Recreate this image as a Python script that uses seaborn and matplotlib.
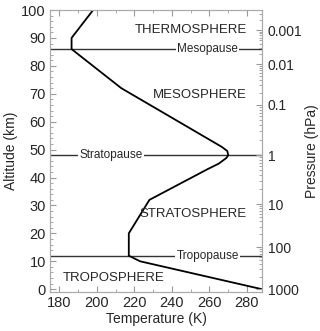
import numpy as np
import pandas as pd
import matplotlib
matplotlib.use('Agg')
import matplotlib.pyplot as plt
import seaborn as sns
from matplotlib.ticker import MultipleLocator, FixedLocator, NullFormatter

# temperature profile
altitude = [0, 10, 12, 20, 32, 43, 45, 47, 48, 49.5, 51, 72, 86, 90, 100]
temperature = [288, 223, 217, 217, 228, 259, 265, 269, 270, 269.5, 266.5, 213, 186.5, 186.5, 198]

# boundaries
pause_names = ['Mesopause', 'Stratopause', 'Tropopause']
pause_alt = [86, 48, 12]
pause_label_temp = [259, 207.5, 259]

# layer names
layer_names = ['THERMOSPHERE', 'MESOSPHERE', 'STRATOSPHERE', 'TROPOSPHERE']
layer_alt = [93, 69.5, 27, 4]

# pressure axis: tick labels and altitude where they sit
pressure_labels = ['0.001', '0.01', '0.1', '1', '10', '100', '1000']
pressure_alt = [92.8, 80.6, 66, 48, 30.5, 15, 0]

sns.set_style('ticks')
plt.rcParams['font.family'] = ['Liberation Sans', 'DejaVu Sans']
plt.rcParams['font.size'] = 10

df = pd.DataFrame({'Temperature': temperature, 'Altitude': altitude})

fig = plt.figure(figsize=(3.2, 3.31), dpi=100)
ax = fig.add_axes([50 / 320, 1 - 292 / 331, 212 / 320, 282 / 331])

sns.lineplot(data=df, x='Temperature', y='Altitude', sort=False, estimator=None,
             color='black', lw=1.3, ax=ax)

ax.set_xlim(175, 288)
ax.set_ylim(-1, 100)

for name, a, t in zip(pause_names, pause_alt, pause_label_temp):
    ax.axhline(a, color='#333333', lw=1.0, zorder=1)
    ax.text(t, a, name, ha='center', va='center', fontsize=8.5,
            bbox=dict(facecolor='white', edgecolor='none', pad=1.0), zorder=2)

for name, a in zip(layer_names, layer_alt):
    if name == 'TROPOSPHERE':
        ax.text(182, a, name, ha='left', va='center', fontsize=9.5)
    else:
        ax.text(280, a, name, ha='right', va='center', fontsize=9.5)

ax.set_xlabel('Temperature (K)', fontsize=10, labelpad=1)
ax.set_ylabel('Altitude (km)', fontsize=10, labelpad=2)
ax.xaxis.set_major_locator(MultipleLocator(20))
ax.xaxis.set_minor_locator(MultipleLocator(10))
ax.yaxis.set_major_locator(MultipleLocator(10))
ax.yaxis.set_minor_locator(MultipleLocator(2))
ax.tick_params(which='both', direction='in', top=True, right=False, color='#999999',
               labelsize=10.5, pad=3)
ax.tick_params(which='major', length=4)
ax.tick_params(which='minor', length=2)
for s in ax.spines.values():
    s.set_color('#aaaaaa')
    s.set_linewidth(0.8)

# right pressure axis
ax2 = ax.twinx()
ax2.set_ylim(ax.get_ylim())
ax2.yaxis.set_major_locator(FixedLocator(pressure_alt))
ax2.set_yticklabels(pressure_labels)
minor = []
for k in range(len(pressure_alt) - 1):
    lo, hi = pressure_alt[k + 1], pressure_alt[k]
    for m in range(2, 10):
        minor.append(lo + (hi - lo) * np.log10(m))
top_step = pressure_alt[0] - pressure_alt[1]
minor += [pressure_alt[0] + top_step * np.log10(m) for m in range(2, 10)
          if pressure_alt[0] + top_step * np.log10(m) < 100]
ax2.yaxis.set_minor_locator(FixedLocator(minor))
ax2.yaxis.set_minor_formatter(NullFormatter())
ax2.tick_params(which='both', direction='in', color='#999999', labelsize=10, pad=4)
ax2.tick_params(which='major', length=4)
ax2.tick_params(which='minor', length=2)
ax2.set_ylabel('Pressure (hPa)', fontsize=10, labelpad=2)
for s in ax2.spines.values():
    s.set_color('#aaaaaa')
    s.set_linewidth(0.8)

fig.savefig('out.png', dpi=100)
